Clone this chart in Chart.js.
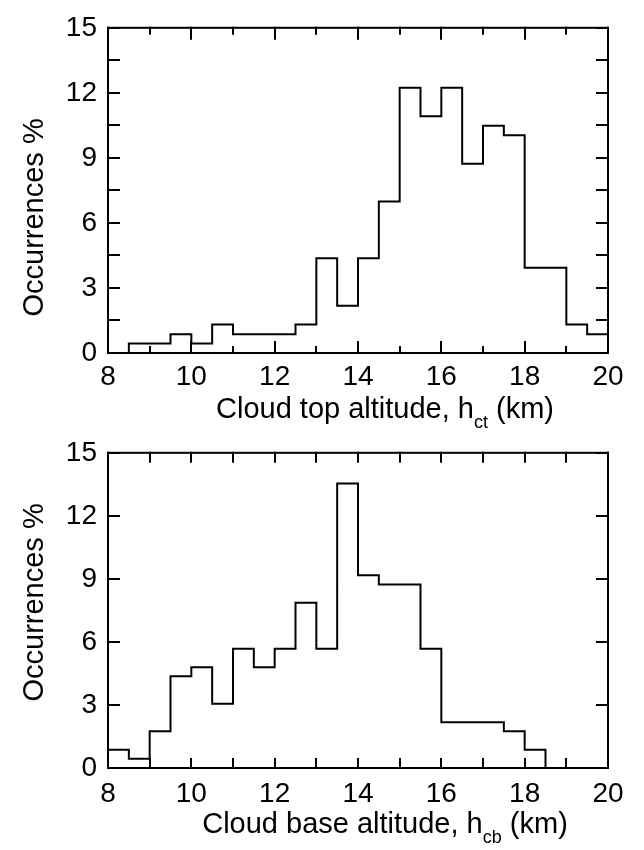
<!DOCTYPE html>
<html>
<head>
<meta charset="utf-8">
<script src="https://cdn.jsdelivr.net/npm/chart.js@4.4.1/dist/chart.umd.min.js"></script>
<style>
  html, body { margin: 0; padding: 0; background: #fff; }
  .panel { position: absolute; left: 0; width: 644px; }
  #topPanel { top: 0; height: 440px; }
  #bottomPanel { top: 425px; height: 425px; }
</style>
</head>
<body>
<div class="panel" id="topPanel"><canvas id="topChart" width="644" height="440"></canvas></div>
<div class="panel" id="bottomPanel"><canvas id="bottomChart" width="644" height="425"></canvas></div>
<script>
// histogram bins are 0.5 km wide, values are % of occurrences
const BIN_WIDTH = 0.5;

const topBinStarts = [8.5, 9, 9.5, 10, 10.5, 11, 11.5, 12, 12.5, 13, 13.5, 14,
  14.5, 15, 15.5, 16, 16.5, 17, 17.5, 18, 18.5, 19, 19.5];
const topValues = [0.44, 0.44, 0.87, 0.44, 1.31, 0.87, 0.87, 0.87, 1.31, 4.37, 2.18, 4.37,
  6.99, 12.23, 10.92, 12.23, 8.73, 10.48, 10.04, 3.93, 3.93, 1.31, 0.87];

const baseBinStarts = [8, 8.5, 9, 9.5, 10, 10.5, 11, 11.5, 12, 12.5, 13, 13.5,
  14, 14.5, 15, 15.5, 16, 16.5, 17, 17.5, 18];
const baseValues = [0.87, 0.44, 1.75, 4.37, 4.80, 3.06, 5.68, 4.80, 5.68, 7.86, 5.68, 13.54,
  9.17, 8.73, 8.73, 5.68, 2.18, 2.18, 2.18, 1.75, 0.87];

const xTickValues = [8, 9, 10, 11, 12, 13, 14, 15, 16, 17, 18, 19, 20];
const topYTickValues = [0, 1.5, 3, 4.5, 6, 7.5, 9, 10.5, 12, 13.5, 15];
const baseYTickValues = [0, 3, 6, 9, 12, 15];

const FONT = "'Liberation Sans', Arial, sans-serif";

function stepPoints(starts, values) {
  const pts = [{ x: starts[0], y: 0 }];
  starts.forEach((x, i) => pts.push({ x, y: values[i] }));
  const end = starts[starts.length - 1] + BIN_WIDTH;
  pts.push({ x: end, y: values[values.length - 1] });
  pts.push({ x: end, y: 0 });
  return pts;
}

// frame, inward ticks on all four sides, and axis titles
const framePlugin = {
  id: 'frame',
  afterDraw(chart, args, opts) {
    const { ctx, chartArea: a, scales: { x, y } } = chart;
    ctx.save();
    ctx.strokeStyle = '#000';
    ctx.lineWidth = 2;
    ctx.lineCap = 'square';

    ctx.beginPath();
    opts.xTicks.forEach(v => {
      const px = Math.round(x.getPixelForValue(v));
      const len = v % 2 === 0 ? opts.xMajorLen : opts.xMinorLen;
      ctx.moveTo(px, a.bottom); ctx.lineTo(px, a.bottom - len);
      ctx.moveTo(px, a.top); ctx.lineTo(px, a.top + len);
    });
    opts.yTicks.forEach(v => {
      const py = Math.round(y.getPixelForValue(v));
      ctx.moveTo(a.left, py); ctx.lineTo(a.left + 11, py);
      ctx.moveTo(a.right, py); ctx.lineTo(a.right - 11, py);
    });
    ctx.stroke();
    ctx.strokeRect(a.left, a.top, a.right - a.left, a.bottom - a.top);

    // y title
    ctx.fillStyle = '#000';
    ctx.font = `29px ${FONT}`;
    ctx.save();
    ctx.translate(43, (a.top + a.bottom) / 2 + opts.yTitleShift);
    ctx.rotate(-Math.PI / 2);
    ctx.textAlign = 'center';
    ctx.textBaseline = 'alphabetic';
    ctx.fillText('Occurrences %', 0, 0);
    ctx.restore();

    // x title with subscript
    const main = opts.xTitle[0], sub = opts.xTitle[1], tail = opts.xTitle[2];
    ctx.font = `29px ${FONT}`;
    const w1 = ctx.measureText(main).width;
    const w3 = ctx.measureText(tail).width;
    ctx.font = `18px ${FONT}`;
    const w2 = ctx.measureText(sub).width;
    const total = w1 + w2 + w3;
    let sx = (a.left + a.right) / 2 + opts.xTitleShift - total / 2;
    const by = a.bottom + opts.xTitleOffset;
    ctx.textAlign = 'left';
    ctx.textBaseline = 'alphabetic';
    ctx.font = `29px ${FONT}`;
    ctx.fillText(main, sx, by);
    sx += w1;
    ctx.font = `18px ${FONT}`;
    ctx.fillText(sub, sx, by + 10);
    sx += w2;
    ctx.font = `29px ${FONT}`;
    ctx.fillText(tail, sx, by);
    ctx.restore();
  }
};

function makeChart(canvasId, starts, values, cfg) {
  return new Chart(document.getElementById(canvasId), {
    type: 'line',
    data: {
      datasets: [{
        data: stepPoints(starts, values),
        stepped: true,
        borderColor: '#000',
        borderWidth: 2,
        pointRadius: 0,
        fill: false
      }]
    },
    options: {
      responsive: false,
      animation: false,
      layout: { padding: { top: cfg.padTop, right: 36, left: 0, bottom: 0 } },
      plugins: {
        legend: { display: false },
        tooltip: { enabled: false },
        frame: {
          xTicks: xTickValues,
          yTicks: cfg.yTicks,
          xMajorLen: cfg.xMajorLen,
          xMinorLen: cfg.xMinorLen,
          yTitleShift: cfg.yTitleShift,
          xTitle: cfg.xTitle,
          xTitleShift: 27,
          xTitleOffset: cfg.xTitleOffset
        }
      },
      scales: {
        x: {
          type: 'linear',
          min: 8,
          max: 20,
          grid: { display: false, drawTicks: false },
          border: { display: false },
          ticks: {
            stepSize: 2,
            padding: cfg.xTickPad,
            color: '#000',
            font: { family: FONT, size: 28 },
            maxRotation: 0
          },
          afterFit(scale) { scale.height = cfg.xHeight; }
        },
        y: {
          min: 0,
          max: 15,
          grid: { display: false, drawTicks: false },
          border: { display: false },
          ticks: {
            stepSize: 3,
            padding: 11,
            color: '#000',
            font: { family: FONT, size: 28 }
          },
          afterFit(scale) { scale.width = 108; }
        }
      }
    },
    plugins: [framePlugin]
  });
}

makeChart('topChart', topBinStarts, topValues, {
  padTop: 24,
  xHeight: 87,
  xTickPad: 7,
  yTicks: topYTickValues,
  xMajorLen: 11,
  xMinorLen: 6,
  yTitleShift: 27,
  xTitle: ['Cloud top altitude, h', 'ct', ' (km)'],
  xTitleOffset: 65
});

makeChart('bottomChart', baseBinStarts, baseValues, {
  padTop: 14,
  xHeight: 82,
  xTickPad: 9,
  yTicks: baseYTickValues,
  xMajorLen: 9,
  xMinorLen: 9,
  yTitleShift: -8,
  xTitle: ['Cloud base altitude, h', 'cb', ' (km)'],
  xTitleOffset: 65
});
</script>
</body>
</html>
